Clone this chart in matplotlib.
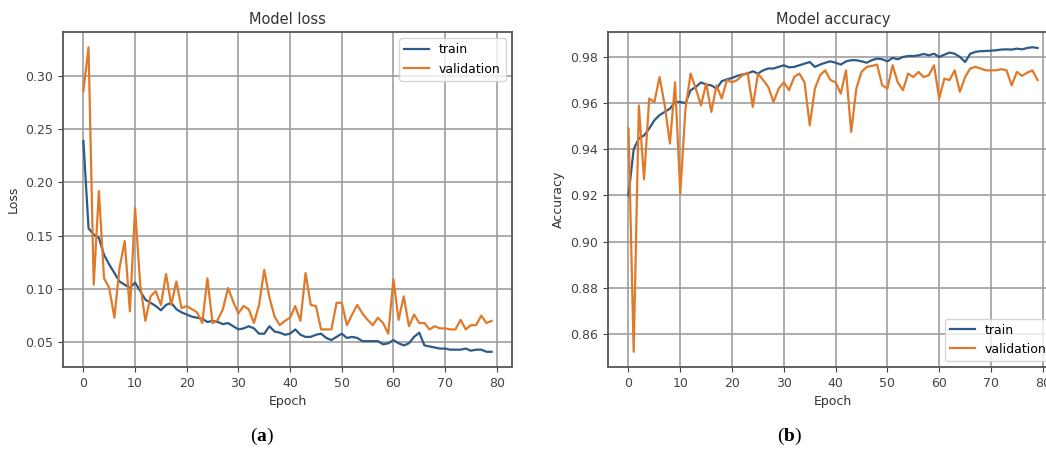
"""
Model loss / accuracy training curves (two panels)
"""
import numpy as np
import matplotlib
matplotlib.use('Agg')
import matplotlib.pyplot as plt

epochs = np.arange(80)

train_loss = [
    0.239, 0.157, 0.151, 0.148, 0.132, 0.123, 0.115, 0.107, 0.104, 0.101,
    0.106, 0.098, 0.090, 0.087, 0.084, 0.080, 0.085, 0.087, 0.081, 0.078,
    0.076, 0.074, 0.073, 0.072, 0.069, 0.070, 0.069, 0.067, 0.068, 0.065,
    0.062, 0.063, 0.065, 0.063, 0.058, 0.058, 0.065, 0.060, 0.059, 0.057,
    0.058, 0.062, 0.057, 0.055, 0.055, 0.057, 0.058, 0.054, 0.052, 0.055,
    0.058, 0.054, 0.055, 0.054, 0.051, 0.051, 0.051, 0.051, 0.048, 0.049,
    0.052, 0.049, 0.047, 0.049, 0.055, 0.059, 0.047, 0.046, 0.045, 0.044,
    0.044, 0.043, 0.043, 0.043, 0.044, 0.042, 0.043, 0.043, 0.041, 0.041,
]
val_loss = [
    0.286, 0.327, 0.104, 0.192, 0.110, 0.101, 0.073, 0.120, 0.145, 0.079,
    0.176, 0.104, 0.070, 0.093, 0.098, 0.085, 0.114, 0.085, 0.107, 0.082,
    0.084, 0.081, 0.078, 0.068, 0.110, 0.068, 0.071, 0.081, 0.101, 0.088,
    0.077, 0.084, 0.081, 0.068, 0.085, 0.118, 0.092, 0.074, 0.066, 0.070,
    0.073, 0.084, 0.070, 0.115, 0.085, 0.084, 0.062, 0.062, 0.062, 0.087,
    0.087, 0.066, 0.076, 0.085, 0.077, 0.071, 0.066, 0.073, 0.068, 0.058,
    0.109, 0.071, 0.093, 0.065, 0.076, 0.068, 0.068, 0.062, 0.065, 0.063,
    0.063, 0.062, 0.062, 0.071, 0.062, 0.066, 0.066, 0.075, 0.068, 0.070,
]

train_acc = [
    0.9200, 0.9400, 0.9447, 0.9460, 0.9490, 0.9526, 0.9548, 0.9562, 0.9576, 0.9605,
    0.9605, 0.9600, 0.9656, 0.9670, 0.9690, 0.9680, 0.9677, 0.9663, 0.9695, 0.9703,
    0.9709, 0.9718, 0.9724, 0.9728, 0.9738, 0.9728, 0.9742, 0.9750, 0.9750, 0.9757,
    0.9764, 0.9755, 0.9757, 0.9764, 0.9771, 0.9778, 0.9757, 0.9767, 0.9775, 0.9781,
    0.9775, 0.9767, 0.9781, 0.9786, 0.9786, 0.9781, 0.9775, 0.9786, 0.9793, 0.9790,
    0.9781, 0.9796, 0.9790, 0.9800, 0.9804, 0.9804, 0.9807, 0.9813, 0.9807, 0.9814,
    0.9800, 0.9810, 0.9819, 0.9814, 0.9800, 0.9778, 0.9814, 0.9822, 0.9825, 0.9826,
    0.9827, 0.9829, 0.9832, 0.9833, 0.9832, 0.9836, 0.9833, 0.9839, 0.9842, 0.9839,
]
val_acc = [
    0.9490, 0.8523, 0.9590, 0.9270, 0.9620, 0.9605, 0.9713, 0.9590, 0.9425, 0.9690,
    0.9209, 0.9576, 0.9728, 0.9663, 0.9590, 0.9685, 0.9562, 0.9677, 0.9620, 0.9700,
    0.9690, 0.9700, 0.9721, 0.9732, 0.9584, 0.9728, 0.9700, 0.9670, 0.9605, 0.9663,
    0.9690, 0.9656, 0.9713, 0.9728, 0.9690, 0.9504, 0.9663, 0.9721, 0.9742, 0.9700,
    0.9690, 0.9641, 0.9742, 0.9475, 0.9663, 0.9735, 0.9757, 0.9761, 0.9767, 0.9677,
    0.9663, 0.9764, 0.9690, 0.9656, 0.9728, 0.9713, 0.9735, 0.9713, 0.9721, 0.9764,
    0.9620, 0.9706, 0.9700, 0.9742, 0.9649, 0.9713, 0.9750, 0.9757, 0.9750, 0.9742,
    0.9742, 0.9742, 0.9747, 0.9742, 0.9677, 0.9735, 0.9718, 0.9732, 0.9742, 0.9700,
]

loss_ticks = [0.05, 0.10, 0.15, 0.20, 0.25, 0.30]
acc_ticks = [0.86, 0.88, 0.90, 0.92, 0.94, 0.96, 0.98]
epoch_ticks = [0, 10, 20, 30, 40, 50, 60, 70, 80]

TRAIN_COLOR = '#2e5a88'
VAL_COLOR = '#e07a2a'

plt.rcParams['font.family'] = ['DejaVu Sans']
plt.rcParams['mathtext.fontset'] = 'custom'
plt.rcParams['mathtext.bf'] = 'Liberation Serif:bold'
plt.rcParams['mathtext.rm'] = 'Liberation Serif'


def style_axes(ax, title, ylabel, yticks):
    ax.set_title(title, fontsize=10.5, color='#333333')
    ax.set_xlabel('Epoch', fontsize=9, color='#333333')
    ax.set_ylabel(ylabel, fontsize=9, color='#333333')
    ax.set_xticks(epoch_ticks)
    ax.set_yticks(yticks)
    ax.tick_params(labelsize=9, colors='#444444')
    ax.grid(True, color='#9e9e9e', linewidth=1.2)
    for sp in ax.spines.values():
        sp.set_color('#555555')
        sp.set_linewidth(1.3)


fig = plt.figure(figsize=(10.46, 4.5), dpi=100)

# (a) loss
ax1 = fig.add_axes([0.0602, 0.1844, 0.4293, 0.7444])
ax1.plot(epochs, train_loss, color=TRAIN_COLOR, lw=1.6, label='train')
ax1.plot(epochs, val_loss, color=VAL_COLOR, lw=1.6, label='validation')
style_axes(ax1, 'Model loss', 'Loss', loss_ticks)
ax1.yaxis.set_major_formatter(matplotlib.ticker.FormatStrFormatter('%.2f'))
ax1.legend(loc='upper right', fontsize=9)

# (b) accuracy -- right edge runs off the page like the source
ax2 = fig.add_axes([0.5813, 0.1844, 0.4302, 0.7444])
ax2.plot(epochs, train_acc, color=TRAIN_COLOR, lw=1.6, label='train')
ax2.plot(epochs, val_acc, color=VAL_COLOR, lw=1.6, label='validation')
style_axes(ax2, 'Model accuracy', 'Accuracy', acc_ticks)
ax2.yaxis.set_major_formatter(matplotlib.ticker.FormatStrFormatter('%.2f'))
ax2.legend(loc='lower right', fontsize=9)

fig.text(0.2505, 0.03, r'($\mathbf{a}$)', family='Liberation Serif',
         fontsize=14, ha='center', va='center')
fig.text(0.7553, 0.03, r'($\mathbf{b}$)', family='Liberation Serif',
         fontsize=14, ha='center', va='center')

fig.savefig('out.png', dpi=100)
